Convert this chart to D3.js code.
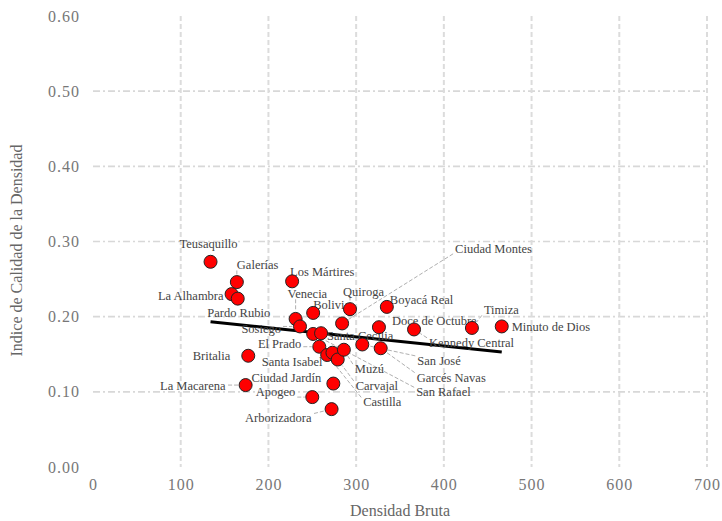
<!DOCTYPE html>
<html>
<head>
<meta charset="utf-8">
<script src="https://cdn.jsdelivr.net/npm/d3@7"></script>
<style>
  body { margin: 0; background: #fff; }
  text { font-family: "Liberation Serif", "DejaVu Serif", serif; }
</style>
</head>
<body>
<svg id="chart" width="722" height="521"></svg>
<script>
// Barrios: gross density vs. density quality index
const barrios = [
  "Teusaquillo", "Galerías", "La Alhambra", "Pardo Rubio", "Los Mártires",
  "Venecia", "Sosiego", "Bolivia", "Quiroga", "Ciudad Montes",
  "Boyacá Real", "Doce de Octubre", "Kennedy Central", "Timiza", "Minuto de Dios",
  "San Rafael", "Santa Cecilia", "El Prado", "San José", "Garcés Navas",
  "Britalia", "Castilla", "Santa Isabel", "Carvajal", "Muzú",
  "Ciudad Jardín", "La Macarena", "Apogeo", "Arborizadora"
];
const densidadBruta = [
  134, 164, 158, 165, 227,
  231, 236, 251, 293, 284,
  335, 326, 366, 432, 466,
  251, 260, 258, 307, 328,
  177, 267, 273, 279, 286,
  274, 174, 250, 272
];
const indiceCalidad = [
  0.273, 0.246, 0.230, 0.224, 0.247,
  0.197, 0.187, 0.205, 0.210, 0.191,
  0.213, 0.186, 0.183, 0.185, 0.187,
  0.177, 0.178, 0.160, 0.163, 0.158,
  0.148, 0.149, 0.152, 0.143, 0.156,
  0.111, 0.109, 0.093, 0.077
];
const xTicks = [0, 100, 200, 300, 400, 500, 600, 700];
const yTicks = [0, 0.1, 0.2, 0.3, 0.4, 0.5, 0.6];

// Label placement relative to each point: [dx, dy, anchor, leader line]
const labelPlacement = {
  "Teusaquillo":     [-2, -18, "middle", false],
  "Galerías":        [0, -17, "start", true],
  "La Alhambra":     [-8, 2, "end", false],
  "Pardo Rubio":     [1, 14, "middle", false],
  "Los Mártires":    [-2, -10, "start", false],
  "Venecia":         [-8, -25, "start", true],
  "Sosiego":         [-19, 2, "end", true],
  "Bolivia":         [0, -8, "start", false],
  "Quiroga":         [-7, -18, "start", true],
  "Ciudad Montes":   [113, -75, "start", true],
  "Boyacá Real":     [3, -7, "start", false],
  "Doce de Octubre": [13, -7, "start", false],
  "Kennedy Central": [15, 13, "start", true],
  "Timiza":          [12, -18, "start", true],
  "Minuto de Dios":  [10, 0, "start", false],
  "San Rafael":      [103, 58, "start", true],
  "Santa Cecilia":   [6, 2, "start", false],
  "El Prado":        [-18, -3, "end", true],
  "San José":        [55, 16, "start", true],
  "Garcés Navas":    [36, 29, "start", true],
  "Britalia":        [-18, 0, "end", false],
  "Castilla":        [36, 47, "start", true],
  "Santa Isabel":    [-10, 9, "end", false],
  "Carvajal":        [18, 26, "start", true],
  "Muzú":            [11, 19, "start", true],
  "Ciudad Jardín":   [-12, -6, "end", false],
  "La Macarena":     [-20, 1, "end", true],
  "Apogeo":          [-17, -5, "end", true],
  "Arborizadora":    [-20, 9, "end", true]
};

const svg = d3.select("#chart");
const margin = { left: 93, right: 15, top: 16, bottom: 54 };
const W = 722, H = 521;

const x = d3.scaleLinear().domain([0, 700]).range([margin.left, W - margin.right]);
const y = d3.scaleLinear().domain([0, 0.6]).range([H - margin.bottom, margin.top]);

const points = barrios.map((b, i) => ({ name: b, xv: densidadBruta[i], yv: indiceCalidad[i] }));

// Grid
const grid = svg.append("g");
grid.selectAll("line.h").data(yTicks.filter(t => t > 0 && t < 0.6)).join("line")
  .attr("x1", x(0)).attr("x2", x(700))
  .attr("y1", d => y(d)).attr("y2", d => y(d))
  .attr("stroke", "#d8d8d8").attr("stroke-width", 1.6)
  .attr("stroke-dasharray", "7,3,2,3");
grid.selectAll("line.v").data(xTicks.filter(t => t > 0)).join("line")
  .attr("x1", d => x(d)).attr("x2", d => x(d))
  .attr("y1", y(0.6)).attr("y2", y(0))
  .attr("stroke", "#dcdcdc").attr("stroke-width", 2)
  .attr("stroke-dasharray", "5,3");

// Axes (labels only)
const xAxis = d3.axisBottom(x).tickValues(xTicks).tickFormat(d3.format("d")).tickSize(0).tickPadding(12);
svg.append("g").attr("transform", `translate(0,${y(0)})`).call(xAxis)
  .call(g => g.select(".domain").remove())
  .selectAll("text").attr("font-family", "Liberation Serif, serif")
  .attr("font-size", 16).attr("fill", "#777").attr("letter-spacing", 1);

const yAxis = d3.axisLeft(y).tickValues(yTicks).tickFormat(d3.format(".2f")).tickSize(0).tickPadding(13);
svg.append("g").attr("transform", `translate(${x(0)},0)`).call(yAxis)
  .call(g => g.select(".domain").remove())
  .selectAll("text").attr("font-family", "Liberation Serif, serif")
  .attr("font-size", 16).attr("fill", "#777").attr("letter-spacing", 1);

// Axis titles
svg.append("text").attr("x", (x(0) + x(700)) / 2).attr("y", 516)
  .attr("text-anchor", "middle").attr("font-size", 16).attr("fill", "#666")
  .text("Densidad Bruta");
svg.append("text").attr("transform", `translate(22,${(y(0) + y(0.6)) / 2 + 9}) rotate(-90)`)
  .attr("text-anchor", "middle").attr("font-size", 16).attr("fill", "#666")
  .text("Indice de Calidad de la Densidad");

// Linear fit over the barrios
const n = points.length;
const mx = d3.mean(points, p => p.xv), my = d3.mean(points, p => p.yv);
const sxy = d3.sum(points, p => (p.xv - mx) * (p.yv - my));
const sxx = d3.sum(points, p => (p.xv - mx) ** 2);
const slope = sxy / sxx, intercept = my - slope * mx;
const [xmin, xmax] = d3.extent(points, p => p.xv);
svg.append("line")
  .attr("x1", x(xmin)).attr("y1", y(intercept + slope * xmin))
  .attr("x2", x(xmax)).attr("y2", y(intercept + slope * xmax))
  .attr("stroke", "#000").attr("stroke-width", 3);

// Labels and leader lines
const R = 6.5;
const leaders = svg.append("g");
const labels = svg.append("g");
points.forEach(p => {
  const [dx, dy, anchor, leader] = labelPlacement[p.name];
  const px = x(p.xv), py = y(p.yv);
  const t = labels.append("text")
    .attr("x", px + dx).attr("y", py + dy).attr("dy", "0.35em")
    .attr("text-anchor", anchor).attr("font-size", 12.5).attr("fill", "#444")
    .text(p.name);
  if (leader) {
    const bb = t.node().getBBox();
    const cx = Math.max(bb.x, Math.min(px, bb.x + bb.width));
    const cy = Math.max(bb.y + 2, Math.min(py, bb.y + bb.height - 2));
    const lx = cx + (cx === bb.x ? -2 : cx === bb.x + bb.width ? 2 : 0);
    const ang = Math.atan2(lx === px ? cy - py : cy - py, lx - px);
    const len = Math.hypot(lx - px, cy - py);
    if (len > R + 2) {
      leaders.append("line")
        .attr("x1", lx).attr("y1", cy)
        .attr("x2", px + Math.cos(ang) * (R + 1)).attr("y2", py + Math.sin(ang) * (R + 1))
        .attr("stroke", "#b0b0b0").attr("stroke-width", 1)
        .attr("stroke-dasharray", "4,2");
    }
  }
});

// Points
svg.append("g").selectAll("circle").data(points).join("circle")
  .attr("cx", p => x(p.xv)).attr("cy", p => y(p.yv)).attr("r", R)
  .attr("fill", "#ff0000").attr("stroke", "#222").attr("stroke-width", 1);
</script>
</body>
</html>
